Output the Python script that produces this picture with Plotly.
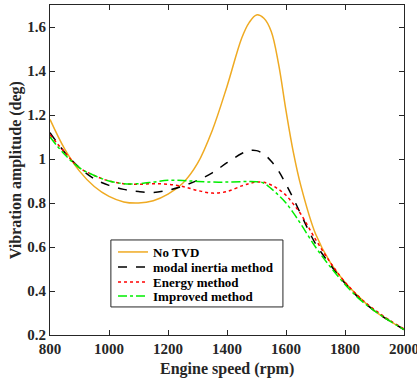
import plotly.graph_objects as go

rpm = [800, 850, 900, 950, 1000, 1050, 1100, 1150, 1200, 1250, 1300, 1350, 1400,
       1450, 1475, 1500, 1525, 1550, 1575, 1600, 1625, 1650, 1700, 1750, 1800,
       1850, 1900, 1950, 2000]

no_tvd = [1.18, 1.045, 0.945, 0.875, 0.83, 0.805, 0.80, 0.81, 0.84, 0.89, 0.98, 1.13, 1.33,
          1.55, 1.62, 1.655, 1.64, 1.58, 1.43, 1.22, 1.03, 0.88, 0.66, 0.53, 0.44,
          0.37, 0.31, 0.265, 0.225]

modal = [1.12, 1.03, 0.96, 0.91, 0.88, 0.862, 0.852, 0.848, 0.858, 0.877, 0.903, 0.937, 0.983,
         1.025, 1.038, 1.038, 1.022, 0.99, 0.945, 0.885, 0.82, 0.75, 0.615, 0.52, 0.435,
         0.365, 0.31, 0.265, 0.225]

energy = [1.11, 1.03, 0.96, 0.925, 0.90, 0.888, 0.885, 0.888, 0.885, 0.875, 0.857, 0.845, 0.852,
          0.878, 0.888, 0.895, 0.894, 0.882, 0.862, 0.835, 0.795, 0.75, 0.635, 0.53, 0.44,
          0.37, 0.315, 0.268, 0.228]

improved = [1.10, 1.02, 0.96, 0.925, 0.90, 0.888, 0.888, 0.895, 0.903, 0.902, 0.898, 0.895, 0.895,
            0.897, 0.898, 0.897, 0.89, 0.865, 0.835, 0.80, 0.755, 0.705, 0.60, 0.51, 0.43,
            0.362, 0.31, 0.265, 0.225]

names = ["No TVD", "modal inertia method", "Energy method", "Improved method"]
colors = ["#EFAA22", "#000000", "#FF0000", "#00EE00"]
dashes = ["solid", "dash", "dot", "dashdot"]
series = [no_tvd, modal, energy, improved]
x_ticks = [800, 1000, 1200, 1400, 1600, 1800, 2000]
y_ticks = [0.2, 0.4, 0.6, 0.8, 1.0, 1.2, 1.4, 1.6]
y_ticktext = ["0.2", "0.4", "0.6", "0.8", "1", "1.2", "1.4", "1.6"]
x_title = "Engine speed (rpm)"
y_title = "Vibration amplitude (deg)"

# legend layout (paper coords): one small legend per entry so spacing matches
leg_x = 0.178
leg_y = [0.2515, 0.206, 0.1606, 0.118]
legend_ids = ["legend", "legend2", "legend3", "legend4"]

fig = go.Figure()
for name, ys, c, d, lid in zip(names, series, colors, dashes, legend_ids):
    fig.add_trace(go.Scatter(x=rpm, y=ys, mode="lines", name=name, legend=lid,
                             line=dict(color=c, dash=d, width=1.5, shape="spline", smoothing=1.0)))

tick_font = dict(family="Liberation Serif", size=15, color="#262626", weight="bold")
title_font = dict(family="Liberation Serif", size=16, color="#262626", weight="bold")
axis_common = dict(showline=True, linecolor="#262626", linewidth=1, mirror="ticks",
                   ticks="inside", ticklen=5, tickcolor="#262626", showgrid=False,
                   zeroline=False, tickfont=tick_font, automargin=False,
                   ticklabeloverflow="allow")

legend_font = dict(family="Liberation Serif", size=13, color="black", weight="bold")
layout_legends = {}
for lid, ly in zip(legend_ids, leg_y):
    layout_legends[lid] = dict(x=leg_x, y=ly, xanchor="left", yanchor="middle",
                               bgcolor="rgba(0,0,0,0)", borderwidth=0,
                               font=legend_font, itemwidth=30)

fig.update_layout(
    width=417, height=379,
    margin=dict(l=50, r=13, t=5, b=44),
    paper_bgcolor="white", plot_bgcolor="white",
    showlegend=True,
    shapes=[dict(type="rect", xref="paper", yref="paper", x0=0.172, x1=0.658,
                 y0=0.085, y1=0.288, line=dict(color="#262626", width=1),
                 fillcolor="white", layer="above")],
    annotations=[
        dict(text=x_title, xref="paper", yref="paper", x=0.5, y=-0.103,
             xanchor="center", yanchor="middle", showarrow=False, font=title_font),
        dict(text=y_title, xref="paper", yref="paper", x=-0.0955, y=0.5,
             xanchor="center", yanchor="middle", showarrow=False, textangle=-90,
             font=title_font),
    ],
    **layout_legends,
)
fig.update_xaxes(range=[800, 2000], tickvals=x_ticks, **axis_common)
fig.update_yaxes(range=[0.2, 1.7], tickvals=y_ticks, ticktext=y_ticktext, **axis_common)

fig.write_html("out.html", config={"displayModeBar": False},
               post_script="document.body.style.margin='0px';")
